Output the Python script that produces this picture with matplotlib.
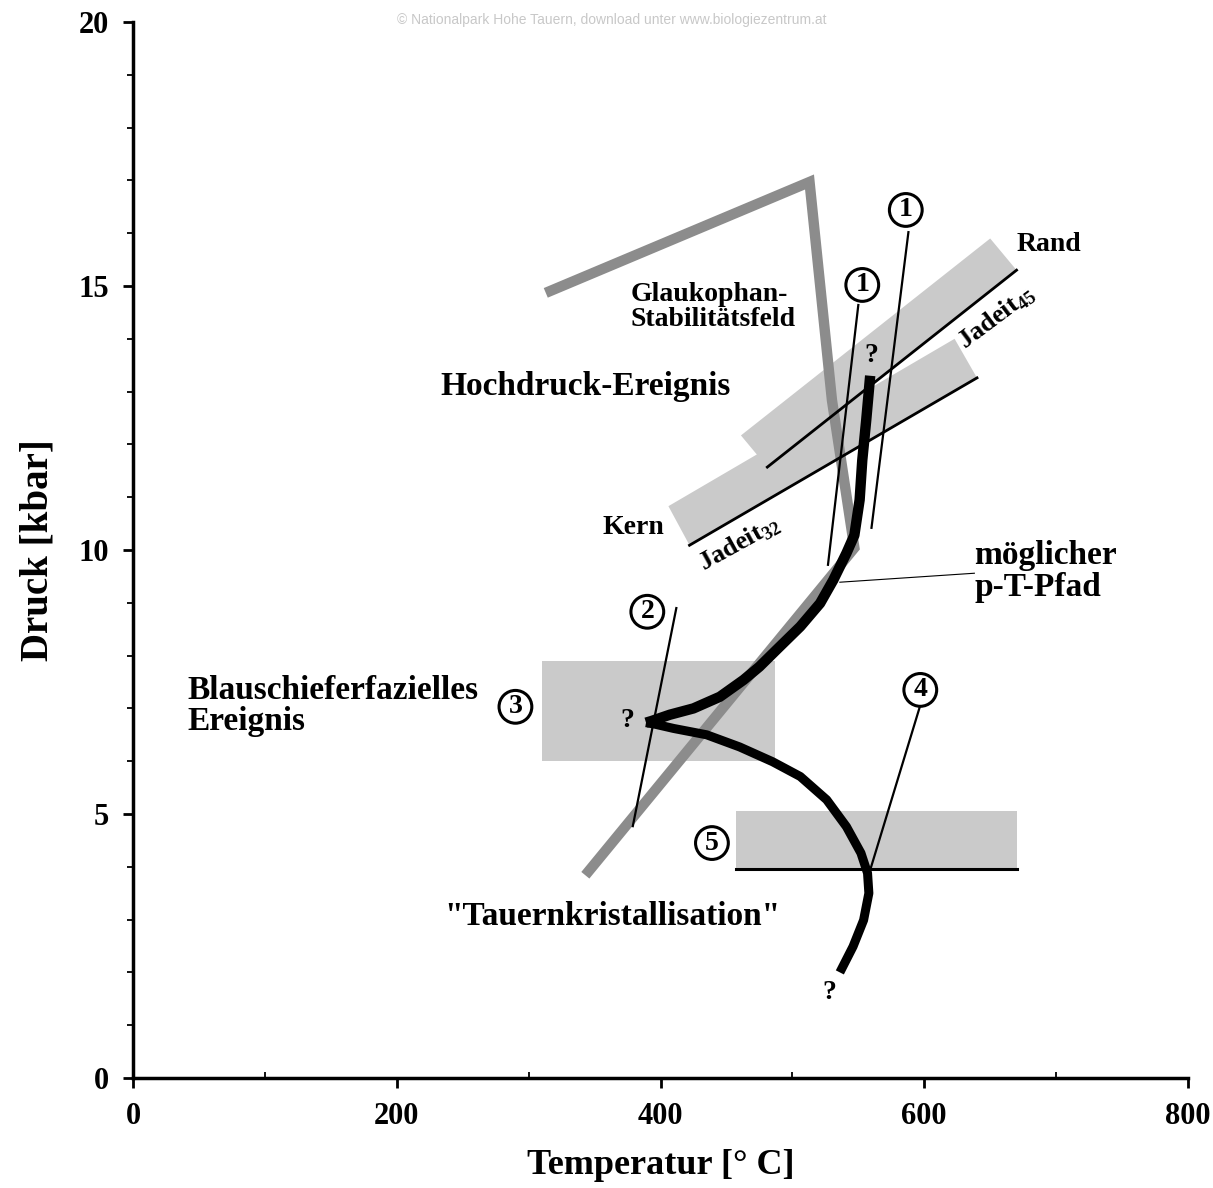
import matplotlib
matplotlib.use('Agg')
import matplotlib.pyplot as plt
from matplotlib.patches import Polygon, Rectangle
from matplotlib.ticker import MultipleLocator

plt.rcParams['font.family'] = ['Liberation Serif', 'DejaVu Serif']
plt.rcParams['font.weight'] = 'bold'
plt.rcParams['mathtext.fontset'] = 'custom'
plt.rcParams['mathtext.bf'] = 'Liberation Serif:bold'
plt.rcParams['mathtext.rm'] = 'Liberation Serif:bold'

# p-T path (black), upper branch from the top down to the cusp
path_up_T = [559, 556, 553, 551, 547, 541, 531, 521, 506, 488, 475, 463, 445, 425, 407, 393, 389]
path_up_p = [13.3, 12.46, 11.7, 10.95, 10.28, 9.94, 9.43, 8.99, 8.55, 8.11, 7.79, 7.54, 7.22, 7.00, 6.88, 6.76, 6.73]
# lower branch from the cusp down
path_lo_T = [389, 396, 410, 435, 460, 485, 506, 526, 541, 552, 557, 558, 554, 546, 536]
path_lo_p = [6.73, 6.70, 6.62, 6.50, 6.27, 5.99, 5.71, 5.27, 4.76, 4.26, 3.88, 3.50, 2.99, 2.49, 2.00]

# glaucophane stability limit (grey)
glauk_T = [313, 513, 530, 547, 343]
glauk_p = [14.87, 16.97, 12.84, 10.04, 3.84]

# jadeite isopleths
jd45_T = [481, 670]
jd45_p = [11.57, 15.30]
jd32_T = [422, 640]
jd32_p = [10.09, 13.26]
# band corners (Rand / Kern)
rand_T = [481, 670, 650, 461]
rand_p = [11.57, 15.30, 15.90, 12.17]
kern_T = [422, 640, 623, 406]
kern_p = [10.09, 13.26, 14.0, 10.83]

# fields 3 and 5
box3 = (310, 487, 6.0, 7.9)
box5 = (457, 670, 3.95, 5.05)

# pointer lines (T0, p0, T1, p1)
callouts = {
    '1a': (550, 14.64, 527, 9.72),
    '1b': (588, 16.02, 560, 10.42),
    '2': (412, 8.90, 379, 4.77),
    '4': (597, 7.06, 559, 3.94),
}
pfad_ptr = (638, 9.56, 536, 9.39)

circ_labels = ['1', '1', '2', '3', '4', '5']
circ_T = [553, 586, 390, 290, 597, 439]
circ_p = [15.02, 16.44, 8.83, 7.03, 7.35, 4.45]

q_T = [560, 375, 528]
q_p = [13.69, 6.78, 1.61]

fig = plt.figure(figsize=(12.13, 11.88), dpi=100)
ax = fig.add_axes([133/1213, 110/1188, 1055/1213, 1056/1188])
ax.set_xlim(0, 800)
ax.set_ylim(0, 20)

band_c = '#cacaca'
ax.add_patch(Polygon(list(zip(rand_T, rand_p)), closed=True, fc=band_c, ec='none', zorder=1))
ax.add_patch(Polygon(list(zip(kern_T, kern_p)), closed=True, fc=band_c, ec='none', zorder=1))
ax.add_patch(Rectangle((box3[0], box3[2]), box3[1]-box3[0], box3[3]-box3[2], fc=band_c, ec='none', zorder=1))
ax.add_patch(Rectangle((box5[0], box5[2]), box5[1]-box5[0], box5[3]-box5[2], fc=band_c, ec='none', zorder=1))
ax.plot([box5[0], box5[1]], [box5[2], box5[2]], color='black', lw=2.2, zorder=3)

ax.plot(glauk_T, glauk_p, color='#8c8c8c', lw=7.5, solid_joinstyle='miter', solid_capstyle='butt', zorder=2)

ax.plot(jd45_T, jd45_p, color='black', lw=2, zorder=3)
ax.plot(jd32_T, jd32_p, color='black', lw=2, zorder=3)

ax.plot(path_up_T, path_up_p, color='black', lw=7.5, solid_capstyle='butt', solid_joinstyle='round', zorder=4)
ax.plot(path_lo_T, path_lo_p, color='black', lw=6.5, solid_capstyle='butt', solid_joinstyle='round', zorder=4)

for k, (t0, p0, t1, p1) in callouts.items():
    ax.plot([t0, t1], [p0, p1], color='black', lw=1.6, zorder=5)
ax.plot([pfad_ptr[0], pfad_ptr[2]], [pfad_ptr[1], pfad_ptr[3]], color='black', lw=0.8, zorder=5)

for lab, t, p in zip(circ_labels, circ_T, circ_p):
    ax.text(t, p, lab, fontsize=20, fontweight='bold', ha='center', va='center', zorder=6,
            bbox=dict(boxstyle='circle,pad=0.14', fc='white', ec='black', lw=2.2))

for t, p in zip(q_T, q_p):
    ax.text(t, p, '?', fontsize=20, ha='center', va='center', zorder=6)

ax.text(377, 14.60, 'Glaukophan-\nStabilitätsfeld', fontsize=20, ha='left', va='center', linespacing=1.0)
ax.text(233, 13.09, 'Hochdruck-Ereignis', fontsize=24, ha='left', va='center')
ax.text(670, 15.78, 'Rand', fontsize=20, ha='left', va='center')
ax.text(356, 10.42, 'Kern', fontsize=20, ha='left', va='center')
ax.text(655, 14.40, r'Jadeit$_{\mathbf{45}}$', fontsize=19, ha='center', va='center', rotation=37, rotation_mode='anchor')
ax.text(460, 10.12, r'Jadeit$_{\mathbf{32}}$', fontsize=19, ha='center', va='center', rotation=29, rotation_mode='anchor')
ax.text(638, 9.60, 'möglicher\np-T-Pfad', fontsize=24, ha='left', va='center', linespacing=1.05)
ax.text(41, 7.05, 'Blauschieferfazielles\nEreignis', fontsize=24, ha='left', va='center', linespacing=1.0)
ax.text(236, 3.05, '"Tauernkristallisation"', fontsize=24, ha='left', va='center')

fig.text(612/1213, 1 - 20/1188, '© Nationalpark Hohe Tauern, download unter www.biologiezentrum.at',
         fontsize=10, color='#c8c8c8', ha='center', va='center', family='Liberation Sans', weight='normal')

for s in ['top', 'right']:
    ax.spines[s].set_visible(False)
for s in ['left', 'bottom']:
    ax.spines[s].set_linewidth(2.5)

ax.xaxis.set_major_locator(MultipleLocator(200))
ax.xaxis.set_minor_locator(MultipleLocator(100))
ax.yaxis.set_major_locator(MultipleLocator(5))
ax.yaxis.set_minor_locator(MultipleLocator(1))
ax.tick_params(axis='both', which='major', length=7, width=2, labelsize=22)
ax.tick_params(axis='x', which='major', direction='out', pad=10)
ax.tick_params(axis='y', which='major', direction='out', pad=10)
ax.tick_params(axis='x', which='minor', direction='in', length=4, width=1.3)
ax.tick_params(axis='y', which='minor', direction='out', length=4, width=1.3)
for lbl in ax.get_xticklabels() + ax.get_yticklabels():
    lbl.set_fontweight('bold')

ax.set_xlabel('Temperatur [° C]', fontsize=26, fontweight='bold', labelpad=13)
ax.set_ylabel('Druck [kbar]', fontsize=28, fontweight='bold', labelpad=16)

fig.savefig('out.png', dpi=100)
